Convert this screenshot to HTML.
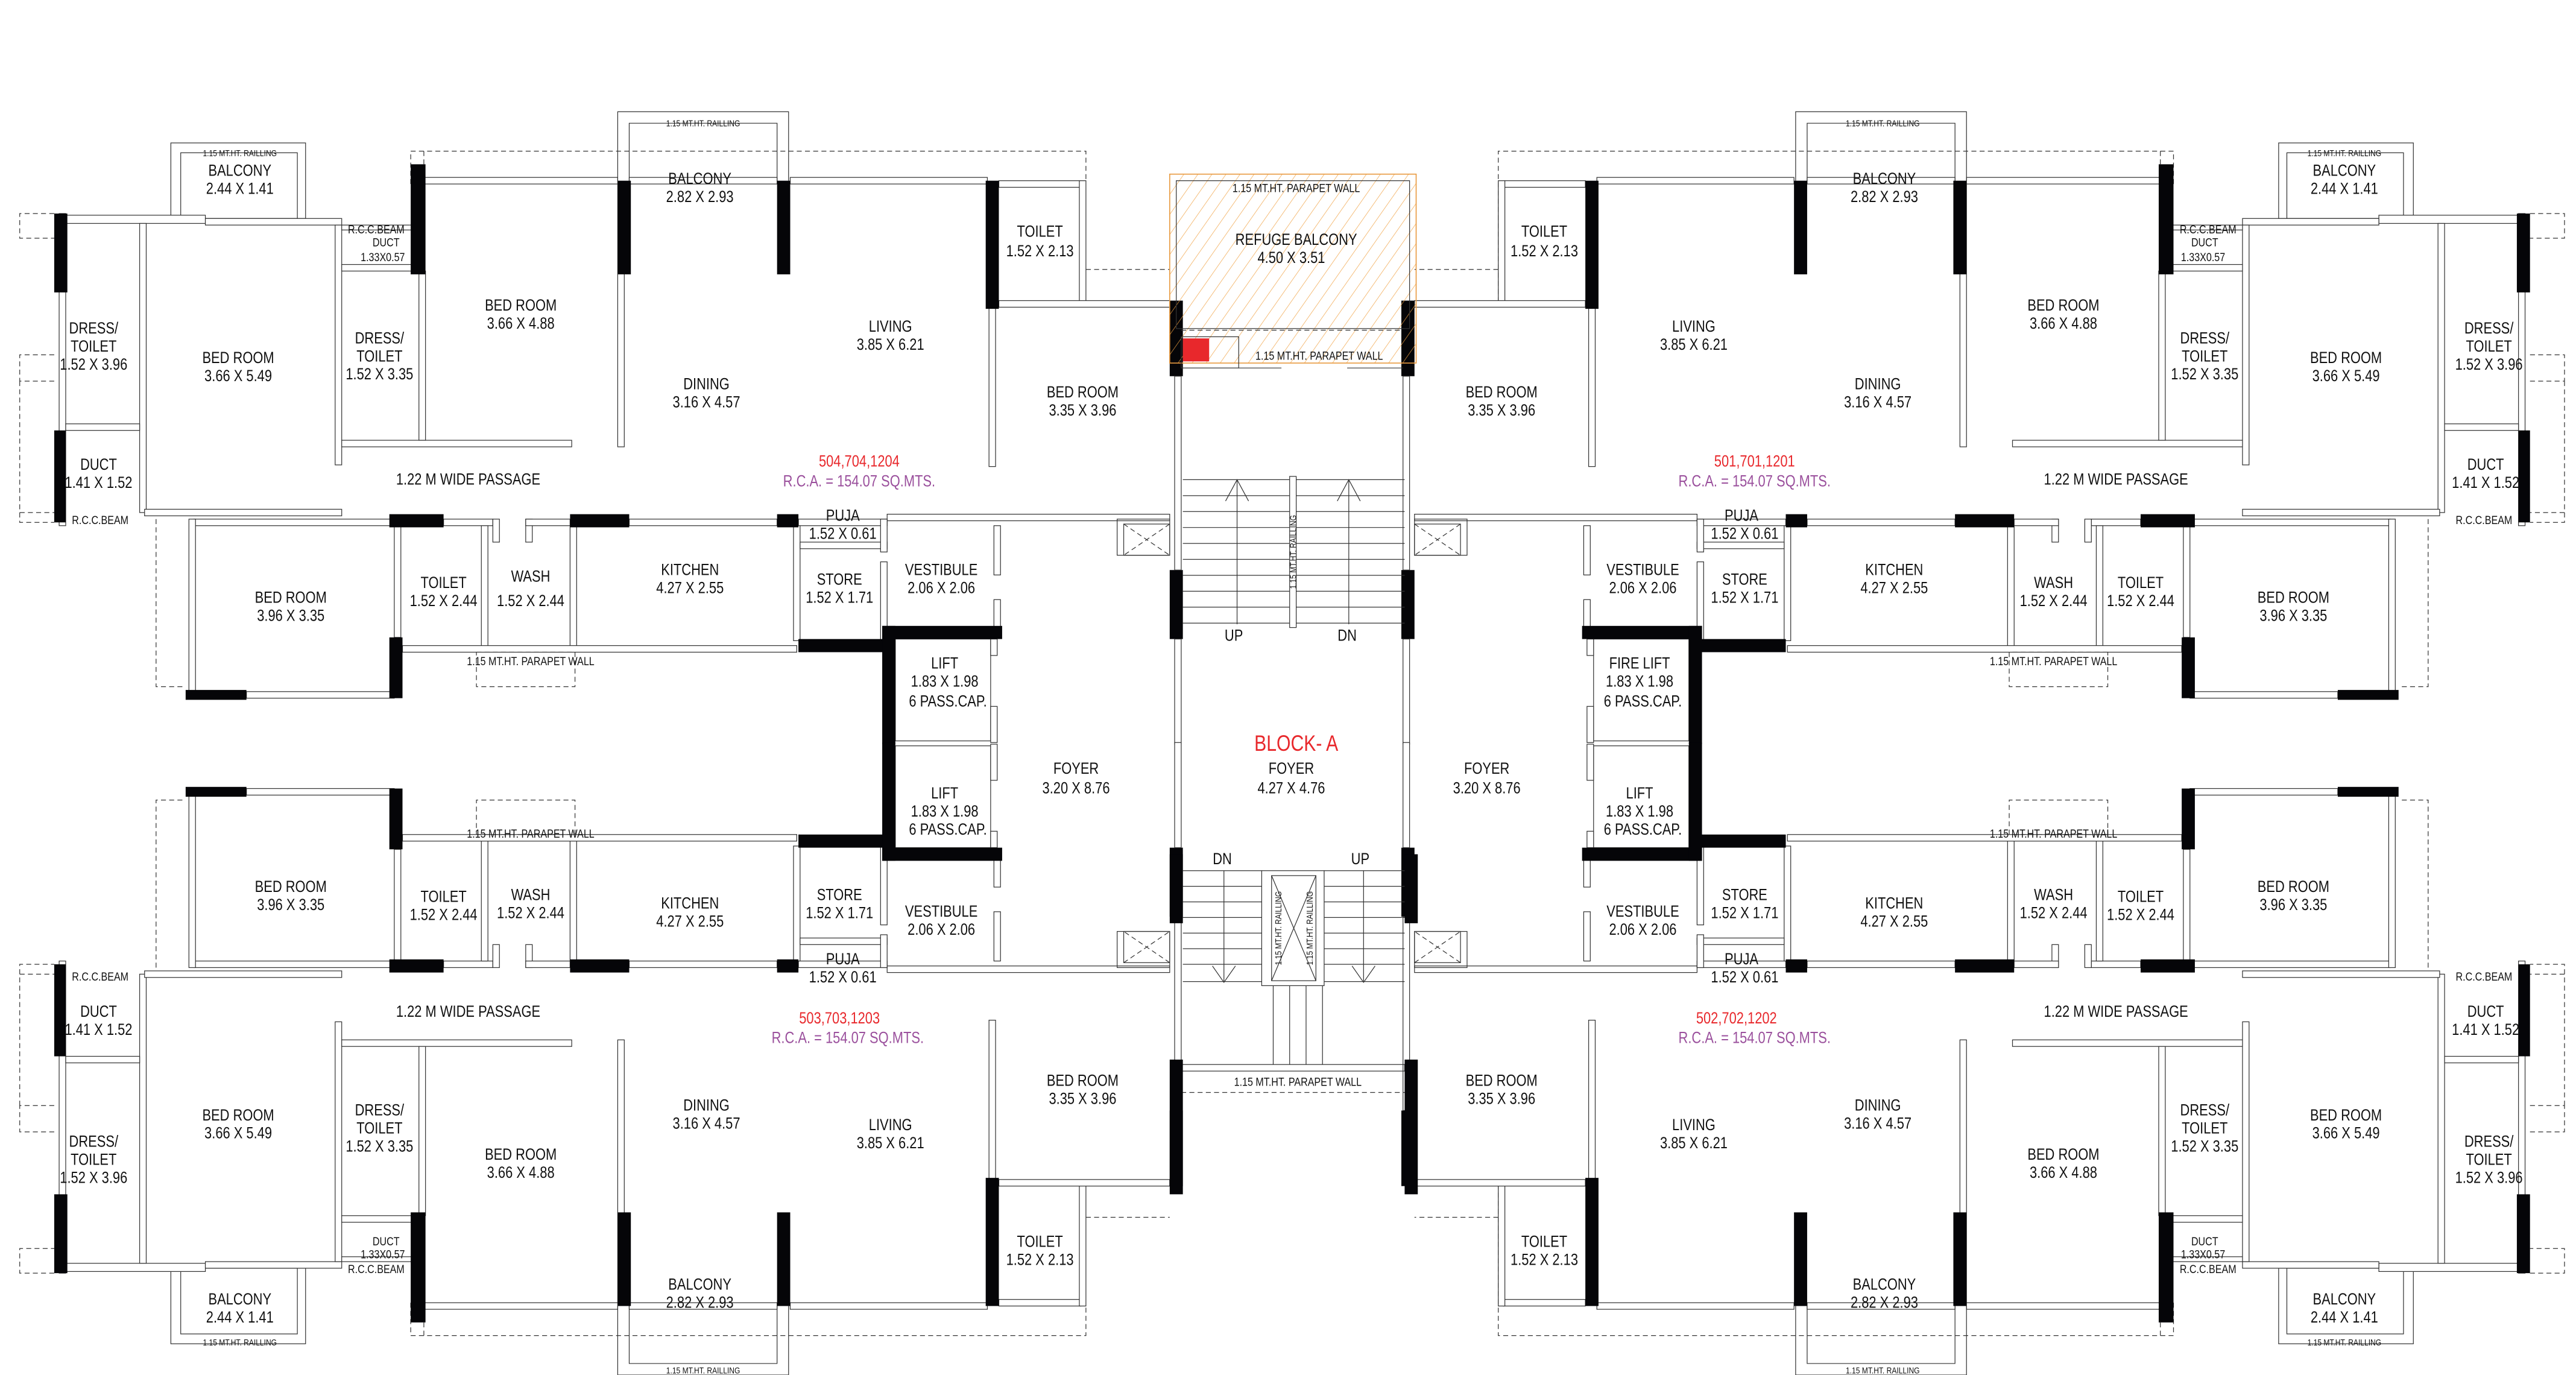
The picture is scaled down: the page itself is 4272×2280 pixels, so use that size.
<!DOCTYPE html>
<html><head><meta charset="utf-8">
<style>
html,body{margin:0;padding:0;background:#fff;}
svg{display:block;}
.w{fill:#fff;stroke:#333;stroke-width:.45}
.c{fill:#050508}
.l{fill:none;stroke:#333;stroke-width:.45}
.d{fill:none;stroke:#333;stroke-width:.45;stroke-dasharray:3 2}
text{font-family:"Liberation Sans Narrow","Liberation Sans",sans-serif;font-size:9.8px;fill:#111;text-anchor:middle;transform-box:fill-box;transform-origin:center;transform:scaleX(.82)}
.s{font-size:7.2px}
.xs{font-size:5.4px}
.r{fill:#e8282c}
.p{fill:#9a4f9c}
</style></head>
<body>
<svg width="4272" height="2280" viewBox="0 0 1568 837" preserveAspectRatio="none" xmlns="http://www.w3.org/2000/svg">
<defs>
<pattern id="h" width="7" height="7" patternUnits="userSpaceOnUse" patternTransform="rotate(35)">
<line x1="0" y1="0" x2="0" y2="7" stroke="#f0a040" stroke-width=".5"/>
</pattern>
<g id="q">
<rect class="l" x="104" y="87" width="82" height="46"/>
<rect class="l" x="110" y="93" width="71" height="40"/>
<path class="d" d="M33,130H12V145H33 M33,216H12V232H33 M12,232V318H33 M12,312H33"/>
<rect class="w" x="36" y="130" width="4" height="190"/>
<rect class="w" x="40" y="131" width="85" height="5"/>
<rect class="w" x="85" y="136" width="4" height="176"/>
<rect class="w" x="40" y="258" width="45" height="4"/>
<rect class="w" x="125" y="133" width="83" height="4"/>
<rect class="w" x="204" y="137" width="4" height="146"/>
<rect class="w" x="208" y="161" width="44" height="4"/>
<rect class="w" x="208" y="137" width="44" height="3"/>
<rect class="w" x="208" y="268" width="140" height="4"/>
<rect class="w" x="255" y="165" width="4" height="103"/>
<rect class="w" x="258" y="108" width="118" height="4"/>
<rect class="w" x="376" y="112" width="4" height="160"/>
<path class="d" d="M250,112V92H661V184 M258,92V112"/>
<path class="l" d="M376,110V68H480V110 M383,110V75H473V110"/>
<rect class="w" x="383" y="108" width="90" height="4"/>
<rect class="w" x="481" y="108" width="120" height="4"/>
<rect class="w" x="608" y="110" width="50" height="4"/>
<rect class="w" x="657" y="110" width="4" height="76"/>
<rect class="w" x="608" y="183" width="104" height="4"/>
<rect class="w" x="602" y="187" width="4" height="97"/>
<path class="d" d="M661,164H712"/>
<rect class="w" x="540" y="313" width="172" height="4"/>
<rect class="w" x="88" y="310" width="120" height="4"/>
<rect class="w" x="118" y="316" width="122" height="4"/>
<rect class="w" x="270" y="316" width="30" height="4"/>
<rect class="w" x="300" y="316" width="4" height="14"/>
<rect class="w" x="320" y="316" width="4" height="14"/>
<rect class="w" x="320" y="316" width="27" height="4"/>
<rect class="w" x="383" y="316" width="90" height="4"/>
<rect class="w" x="486" y="316" width="54" height="4"/>
<path class="d" d="M95,316V418H113"/>
<rect class="w" x="115" y="316" width="4" height="106"/>
<rect class="w" x="150" y="421" width="90" height="4"/>
<rect class="w" x="240" y="320" width="4" height="68"/>
<rect class="w" x="293" y="320" width="4" height="75"/>
<rect class="w" x="347" y="320" width="4" height="75"/>
<rect class="w" x="245" y="393" width="240" height="4"/>
<rect class="d" x="290" y="397" width="60" height="21"/>
<rect class="w" x="483" y="320" width="4" height="70"/>
<rect class="w" x="487" y="330" width="53" height="4"/>
<rect class="w" x="536" y="316" width="4" height="20"/>
<rect class="w" x="536" y="342" width="4" height="48"/>
<rect class="w" x="605" y="320" width="4" height="30"/>
<rect class="w" x="605" y="365" width="4" height="20"/>
<rect class="l" x="545" y="389" width="58" height="62"/>
<rect class="w" x="603" y="389" width="4" height="10"/>
<rect class="w" x="603" y="430" width="4" height="22"/>
<rect class="l" x="680" y="316" width="32" height="22"/>
<rect class="l" x="684" y="319" width="28" height="19"/>
<path class="d" d="M684,319L712,338M712,319L684,338"/>
<rect class="c" x="33" y="130" width="8" height="48"/>
<rect class="c" x="33" y="262" width="7" height="56"/>
<rect class="c" x="250" y="100" width="9" height="67"/>
<rect class="c" x="376" y="110" width="8" height="57"/>
<rect class="c" x="473" y="110" width="8" height="57"/>
<rect class="c" x="600" y="110" width="8" height="78"/>
<rect class="c" x="237" y="313" width="33" height="8"/>
<rect class="c" x="347" y="313" width="36" height="8"/>
<rect class="c" x="473" y="313" width="13" height="8"/>
<rect class="c" x="113" y="420" width="37" height="6"/>
<rect class="c" x="237" y="388" width="8" height="37"/>
<rect class="c" x="486" y="389" width="58" height="8"/>
<rect class="c" x="537" y="381" width="73" height="8"/>
<rect class="c" x="537" y="381" width="8" height="72"/>
<rect class="c" x="712" y="347" width="8" height="42"/>
<rect class="c" x="712" y="183" width="8" height="46"/>
<rect class="w" x="715" y="229" width="4" height="118"/>
<rect class="w" x="715" y="389" width="4" height="64"/>
</g>
</defs>

<use href="#q"/>
<use href="#q" transform="matrix(-1,0,0,1,1573,0)"/>
<use href="#q" transform="matrix(1,0,0,-1,0,905)"/>
<use href="#q" transform="matrix(-1,0,0,-1,1573,905)"/>

<rect x="712" y="106" width="150" height="115" fill="url(#h)" stroke="#e89a40" stroke-width=".6"/>
<rect class="l" x="716" y="110" width="142" height="90"/>
<path class="d" d="M719,201H854"/>
<rect class="l" x="719" y="205" width="35" height="19"/>
<path class="l" d="M754,224H780 M820,224H854"/>
<rect x="720" y="206" width="16" height="14" fill="#e8282c"/>
<g class="l">
<path d="M720,292H855M720,301.7H855M720,311.4H855M720,321.1H855M720,330.8H855M720,340.5H855M720,350.2H855M720,359.9H855M720,369.6H855M720,379.3H855"/>
<path d="M753,292V380M821,292V380M746,305L753,292L760,305M814,305L821,292L828,305"/>
</g>
<rect class="w" x="785" y="290" width="4" height="92"/>
<g class="l">
<path d="M720,530H768M720,539.5H768M720,549H768M720,558.5H768M720,568H768M720,577.5H768M720,587H768M720,597.5H768"/>
<path d="M806,530H855M806,539.5H855M806,549H855M806,558.5H855M806,568H855M806,577.5H855M806,587H855M806,597.5H855"/>
<path d="M745,530V598M830,530V598M738,588L745,598L752,588M823,588L830,598L837,588"/>
<rect x="768" y="530" width="38" height="70"/>
<rect x="774" y="533" width="27" height="64"/>
<path d="M774,533L801,597M801,533L774,597"/>
<path d="M775,600V648M785,600V648M795,600V648M805,600V648"/>
<rect x="719" y="648" width="136" height="4"/>
</g>
<path class="d" d="M719,665H855"/>
<rect class="c" x="712" y="520" width="8" height="42"/>
<rect class="c" x="855" y="520" width="8" height="42"/>
<rect class="c" x="712" y="645" width="8" height="82"/>
<rect class="c" x="855" y="645" width="8" height="82"/>

<text class="xs" x="146" y="95">1.15 MT.HT. RAILLING</text>
<text x="146" y="107">BALCONY</text><text x="146" y="118">2.44 X 1.41</text>
<text x="57" y="203">DRESS/</text><text x="57" y="214">TOILET</text><text x="57" y="225">1.52 X 3.96</text>
<text x="60" y="286">DUCT</text><text x="60" y="297">1.41 X 1.52</text>
<text class="s" x="61" y="319">R.C.C.BEAM</text>
<text x="145" y="221">BED ROOM</text><text x="145" y="232">3.66 X 5.49</text>
<text class="s" x="229" y="142">R.C.C.BEAM</text><text class="s" x="235" y="150">DUCT</text><text class="s" x="233" y="159">1.33X0.57</text>
<text x="231" y="209">DRESS/</text><text x="231" y="220">TOILET</text><text x="231" y="231">1.52 X 3.35</text>
<text x="317" y="189">BED ROOM</text><text x="317" y="200">3.66 X 4.88</text>
<text class="xs" x="428" y="77">1.15 MT.HT. RAILLING</text>
<text x="426" y="112">BALCONY</text><text x="426" y="123">2.82 X 2.93</text>
<text x="542" y="202">LIVING</text><text x="542" y="213">3.85 X 6.21</text>
<text x="430" y="237">DINING</text><text x="430" y="248">3.16 X 4.57</text>
<text x="633" y="144">TOILET</text><text x="633" y="156">1.52 X 2.13</text>
<text x="659" y="242">BED ROOM</text><text x="659" y="253">3.35 X 3.96</text>
<text class="r" x="523" y="284">504,704,1204</text><text class="p" x="523" y="296">R.C.A. = 154.07  SQ.MTS.</text>
<text x="285" y="295">1.22 M WIDE PASSAGE</text>
<text x="177" y="367">BED ROOM</text><text x="177" y="378">3.96 X 3.35</text>
<text x="270" y="358">TOILET</text><text x="270" y="369">1.52 X 2.44</text>
<text x="323" y="354">WASH</text><text x="323" y="369">1.52 X 2.44</text>
<text x="420" y="350">KITCHEN</text><text x="420" y="361">4.27 X 2.55</text>
<text x="513" y="317">PUJA</text><text x="513" y="328">1.52 X 0.61</text>
<text x="511" y="356">STORE</text><text x="511" y="367">1.52 X 1.71</text>
<text x="573" y="350">VESTIBULE</text><text x="573" y="361">2.06 X 2.06</text>
<text class="s" x="323" y="405">1.15 MT.HT. PARAPET WALL</text>
<text x="575" y="407">LIFT</text><text x="575" y="418">1.83 X 1.98</text><text x="577" y="430">6 PASS.CAP.</text>
<text x="655" y="471">FOYER</text><text x="655" y="483">3.20 X 8.76</text>

<text class="s" x="789" y="117">1.15 MT.HT. PARAPET WALL</text>
<text x="789" y="149">REFUGE  BALCONY</text><text x="786" y="160">4.50 X 3.51</text>
<text class="s" x="803" y="219">1.15 MT.HT. PARAPET WALL</text>
<g transform="translate(789,336) rotate(-90)"><text class="xs" x="0" y="0">1.15 MT.HT. RAILLING</text></g>
<text x="751" y="390">UP</text><text x="820" y="390">DN</text>
<text class="r" x="789" y="457" style="font-size:13.5px">BLOCK- A</text>
<text x="786" y="471">FOYER</text><text x="786" y="483">4.27 X 4.76</text>
<text x="744" y="526">DN</text><text x="828" y="526">UP</text>
<g transform="translate(780,565) rotate(-90)"><text class="xs" x="0" y="0">1.15 MT.HT. RAILLING</text></g>
<g transform="translate(799,565) rotate(-90)"><text class="xs" x="0" y="0">1.15 MT.HT. RAILLING</text></g>
<text class="s" x="790" y="661">1.15 MT.HT. PARAPET WALL</text>

<text class="xs" x="1427" y="95">1.15 MT.HT. RAILLING</text>
<text x="1427" y="107">BALCONY</text><text x="1427" y="118">2.44 X 1.41</text>
<text x="1515" y="203">DRESS/</text><text x="1515" y="214">TOILET</text><text x="1515" y="225">1.52 X 3.96</text>
<text x="1513" y="286">DUCT</text><text x="1513" y="297">1.41 X 1.52</text>
<text class="s" x="1512" y="319">R.C.C.BEAM</text>
<text x="1428" y="221">BED ROOM</text><text x="1428" y="232">3.66 X 5.49</text>
<text class="s" x="1344" y="142">R.C.C.BEAM</text><text class="s" x="1342" y="150">DUCT</text><text class="s" x="1341" y="159">1.33X0.57</text>
<text x="1342" y="209">DRESS/</text><text x="1342" y="220">TOILET</text><text x="1342" y="231">1.52 X 3.35</text>
<text x="1256" y="189">BED ROOM</text><text x="1256" y="200">3.66 X 4.88</text>
<text class="xs" x="1146" y="77">1.15 MT.HT. RAILLING</text>
<text x="1147" y="112">BALCONY</text><text x="1147" y="123">2.82 X 2.93</text>
<text x="1031" y="202">LIVING</text><text x="1031" y="213">3.85 X 6.21</text>
<text x="1143" y="237">DINING</text><text x="1143" y="248">3.16 X 4.57</text>
<text x="940" y="144">TOILET</text><text x="940" y="156">1.52 X 2.13</text>
<text x="914" y="242">BED ROOM</text><text x="914" y="253">3.35 X 3.96</text>
<text class="r" x="1068" y="284">501,701,1201</text><text class="p" x="1068" y="296">R.C.A. = 154.07  SQ.MTS.</text>
<text x="1288" y="295">1.22 M WIDE PASSAGE</text>
<text x="1396" y="367">BED ROOM</text><text x="1396" y="378">3.96 X 3.35</text>
<text x="1303" y="358">TOILET</text><text x="1303" y="369">1.52 X 2.44</text>
<text x="1250" y="358">WASH</text><text x="1250" y="369">1.52 X 2.44</text>
<text x="1153" y="350">KITCHEN</text><text x="1153" y="361">4.27 X 2.55</text>
<text x="1060" y="317">PUJA</text><text x="1062" y="328">1.52 X 0.61</text>
<text x="1062" y="356">STORE</text><text x="1062" y="367">1.52 X 1.71</text>
<text x="1000" y="350">VESTIBULE</text><text x="1000" y="361">2.06 X 2.06</text>
<text class="s" x="1250" y="405">1.15 MT.HT. PARAPET WALL</text>
<text x="998" y="407">FIRE LIFT</text><text x="998" y="418">1.83 X 1.98</text><text x="1000" y="430">6 PASS.CAP.</text>
<text x="905" y="471">FOYER</text><text x="905" y="483">3.20 X 8.76</text>

<text x="177" y="543">BED ROOM</text><text x="177" y="554">3.96 X 3.35</text>
<text x="270" y="549">TOILET</text><text x="270" y="560">1.52 X 2.44</text>
<text x="323" y="548">WASH</text><text x="323" y="559">1.52 X 2.44</text>
<text x="420" y="553">KITCHEN</text><text x="420" y="564">4.27 X 2.55</text>
<text x="511" y="548">STORE</text><text x="511" y="559">1.52 X 1.71</text>
<text x="573" y="558">VESTIBULE</text><text x="573" y="569">2.06 X 2.06</text>
<text x="513" y="587">PUJA</text><text x="513" y="598">1.52 X 0.61</text>
<text class="s" x="323" y="510">1.15 MT.HT. PARAPET WALL</text>
<text x="285" y="619">1.22 M WIDE PASSAGE</text>
<text class="r" x="511" y="623">503,703,1203</text><text class="p" x="516" y="635">R.C.A. = 154.07  SQ.MTS.</text>
<text class="s" x="61" y="597">R.C.C.BEAM</text>
<text x="60" y="619">DUCT</text><text x="60" y="630">1.41 X 1.52</text>
<text x="145" y="682">BED ROOM</text><text x="145" y="693">3.66 X 5.49</text>
<text x="57" y="698">DRESS/</text><text x="57" y="709">TOILET</text><text x="57" y="720">1.52 X 3.96</text>
<text x="231" y="679">DRESS/</text><text x="231" y="690">TOILET</text><text x="231" y="701">1.52 X 3.35</text>
<text x="317" y="706">BED ROOM</text><text x="317" y="717">3.66 X 4.88</text>
<text x="430" y="676">DINING</text><text x="430" y="687">3.16 X 4.57</text>
<text x="542" y="688">LIVING</text><text x="542" y="699">3.85 X 6.21</text>
<text x="659" y="661">BED ROOM</text><text x="659" y="672">3.35 X 3.96</text>
<text x="633" y="759">TOILET</text><text x="633" y="770">1.52 X 2.13</text>
<text class="s" x="235" y="758">DUCT</text><text class="s" x="233" y="766">1.33X0.57</text><text class="s" x="229" y="775">R.C.C.BEAM</text>
<text x="146" y="794">BALCONY</text><text x="146" y="805">2.44 X 1.41</text>
<text class="xs" x="146" y="819">1.15 MT.HT. RAILLING</text>
<text x="426" y="785">BALCONY</text><text x="426" y="796">2.82 X 2.93</text>
<text class="xs" x="428" y="836">1.15 MT.HT. RAILLING</text>
<text x="575" y="486">LIFT</text><text x="575" y="497">1.83 X 1.98</text><text x="577" y="508">6 PASS.CAP.</text>

<text x="1396" y="543">BED ROOM</text><text x="1396" y="554">3.96 X 3.35</text>
<text x="1303" y="549">TOILET</text><text x="1303" y="560">1.52 X 2.44</text>
<text x="1250" y="548">WASH</text><text x="1250" y="559">1.52 X 2.44</text>
<text x="1153" y="553">KITCHEN</text><text x="1153" y="564">4.27 X 2.55</text>
<text x="1062" y="548">STORE</text><text x="1062" y="559">1.52 X 1.71</text>
<text x="1000" y="558">VESTIBULE</text><text x="1000" y="569">2.06 X 2.06</text>
<text x="1060" y="587">PUJA</text><text x="1062" y="598">1.52 X 0.61</text>
<text class="s" x="1250" y="510">1.15 MT.HT. PARAPET WALL</text>
<text x="1288" y="619">1.22 M WIDE PASSAGE</text>
<text class="r" x="1057" y="623">502,702,1202</text><text class="p" x="1068" y="635">R.C.A. = 154.07  SQ.MTS.</text>
<text class="s" x="1512" y="597">R.C.C.BEAM</text>
<text x="1513" y="619">DUCT</text><text x="1513" y="630">1.41 X 1.52</text>
<text x="1428" y="682">BED ROOM</text><text x="1428" y="693">3.66 X 5.49</text>
<text x="1515" y="698">DRESS/</text><text x="1515" y="709">TOILET</text><text x="1515" y="720">1.52 X 3.96</text>
<text x="1342" y="679">DRESS/</text><text x="1342" y="690">TOILET</text><text x="1342" y="701">1.52 X 3.35</text>
<text x="1256" y="706">BED ROOM</text><text x="1256" y="717">3.66 X 4.88</text>
<text x="1143" y="676">DINING</text><text x="1143" y="687">3.16 X 4.57</text>
<text x="1031" y="688">LIVING</text><text x="1031" y="699">3.85 X 6.21</text>
<text x="914" y="661">BED ROOM</text><text x="914" y="672">3.35 X 3.96</text>
<text x="940" y="759">TOILET</text><text x="940" y="770">1.52 X 2.13</text>
<text class="s" x="1342" y="758">DUCT</text><text class="s" x="1341" y="766">1.33X0.57</text><text class="s" x="1344" y="775">R.C.C.BEAM</text>
<text x="1427" y="794">BALCONY</text><text x="1427" y="805">2.44 X 1.41</text>
<text class="xs" x="1427" y="819">1.15 MT.HT. RAILLING</text>
<text x="1147" y="785">BALCONY</text><text x="1147" y="796">2.82 X 2.93</text>
<text class="xs" x="1146" y="836">1.15 MT.HT. RAILLING</text>
<text x="998" y="486">LIFT</text><text x="998" y="497">1.83 X 1.98</text><text x="1000" y="508">6 PASS.CAP.</text>
</svg>
</body></html>
